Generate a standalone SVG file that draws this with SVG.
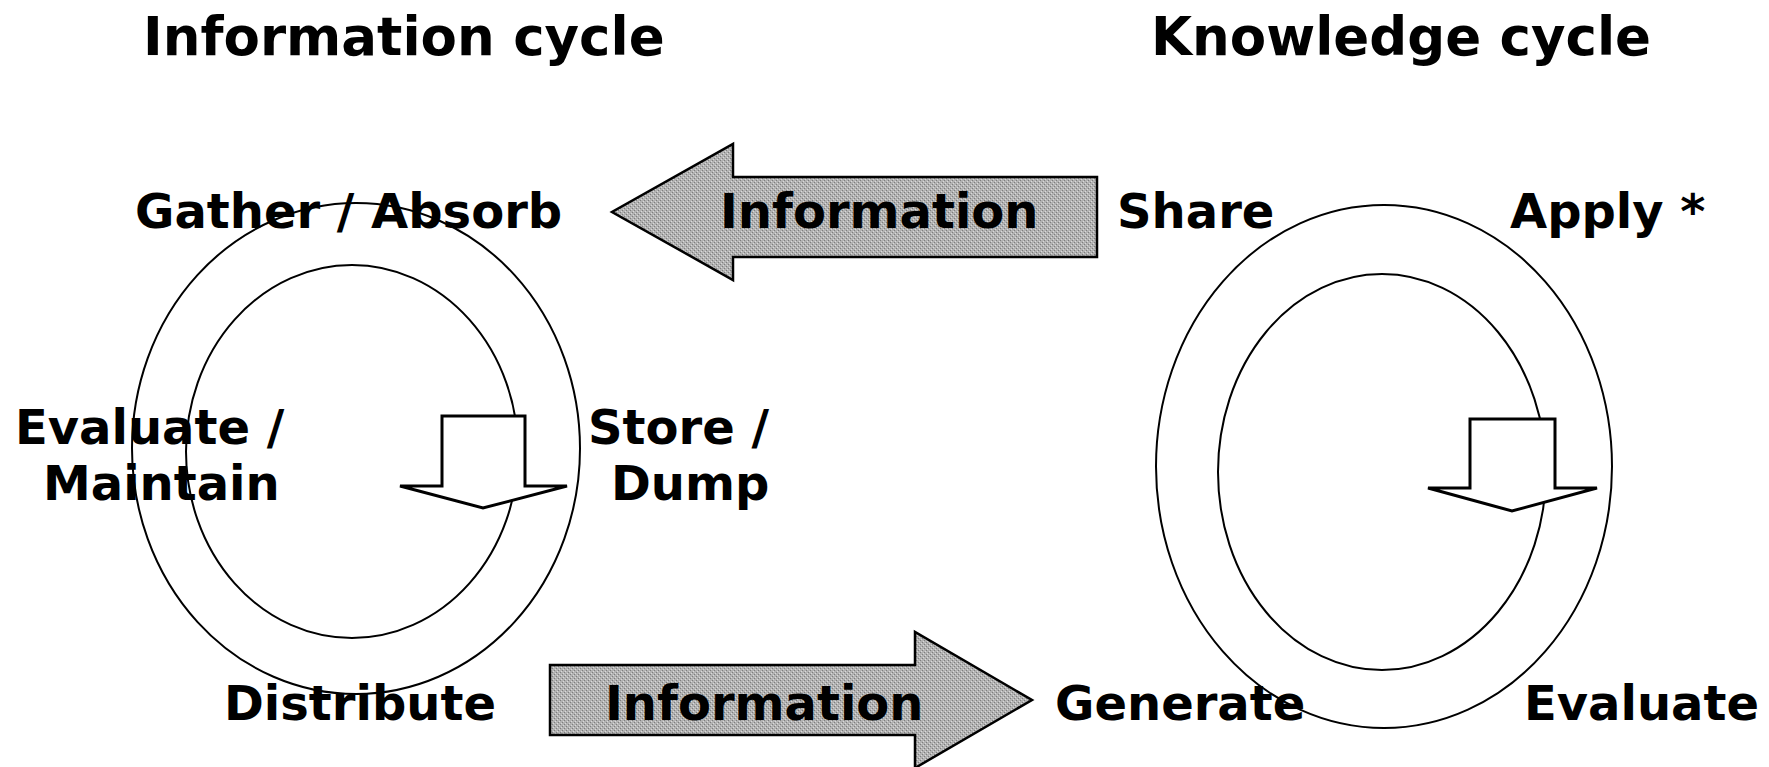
<svg xmlns="http://www.w3.org/2000/svg" width="1769" height="767" viewBox="0 0 1769 767">
<style>
text{font-family:"DejaVu Sans",Verdana,sans-serif;font-weight:bold;fill:#000}
.title{font-size:53px}
.lbl{font-size:48px}
.ring{fill:none;stroke:#000;stroke-width:2}
.big{fill:url(#dither);stroke:#000;stroke-width:2.5;stroke-linejoin:miter}
.hollow{fill:#fff;stroke:#000;stroke-width:3;stroke-linejoin:miter}
</style>
<defs>
<pattern id="dither" width="4" height="4" patternUnits="userSpaceOnUse">
<rect width="4" height="4" fill="#b2b2b2"/>
<rect x="0" y="0" width="1" height="1" fill="#7e7e7e"/>
<rect x="2" y="2" width="1" height="1" fill="#7e7e7e"/>
<rect x="1" y="3" width="1" height="1" fill="#dadada"/>
<rect x="3" y="1" width="1" height="1" fill="#dadada"/>
</pattern>
</defs>
<rect width="1769" height="767" fill="#fff"/>
<g id="titles">
<text class="title" x="143" y="55">Information cycle</text>
<text class="title" x="1151" y="55">Knowledge cycle</text>
</g>
<g id="information-cycle">
<ellipse class="ring" cx="356" cy="448.5" rx="224" ry="245.5"/>
<ellipse class="ring" cx="352" cy="451.5" rx="166" ry="186.5"/>
<polygon class="hollow" points="442,416 525,416 525,486 567,486 483,508 400,486 442,486"/>
</g>
<g id="knowledge-cycle">
<ellipse class="ring" cx="1384" cy="466.5" rx="228" ry="261.5"/>
<ellipse class="ring" cx="1382" cy="472" rx="164" ry="198"/>
<polygon class="hollow" points="1470,419 1555,419 1555,488 1597,488 1512,511 1428,488 1470,488"/>
</g>
<g id="connectors">
<g id="arrow-top">
<polygon class="big" points="1097,177 733,177 733,144 612,212 733,280 733,257 1097,257"/>
<text class="lbl" x="720" y="228">Information</text>
</g>
<g id="arrow-bottom">
<polygon class="big" points="550,665 915,665 915,632 1032,700 915,768 915,735 550,735"/>
<text class="lbl" x="605" y="720">Information</text>
</g>
</g>
<g id="label-gather"><text class="lbl" x="135" y="228">Gather / Absorb</text></g>
<g id="label-evaluate-maintain"><text class="lbl" x="15" y="444">Evaluate /</text><text class="lbl" x="43" y="500">Maintain</text></g>
<g id="label-store-dump"><text class="lbl" x="588" y="444">Store /</text><text class="lbl" x="611" y="500">Dump</text></g>
<g id="label-distribute"><text class="lbl" x="224" y="720">Distribute</text></g>
<g id="label-share"><text class="lbl" x="1117" y="228">Share</text></g>
<g id="label-apply"><text class="lbl" x="1510" y="228">Apply *</text></g>
<g id="label-generate"><text class="lbl" x="1055" y="720">Generate</text></g>
<g id="label-evaluate"><text class="lbl" x="1524" y="720">Evaluate</text></g>
</svg>
